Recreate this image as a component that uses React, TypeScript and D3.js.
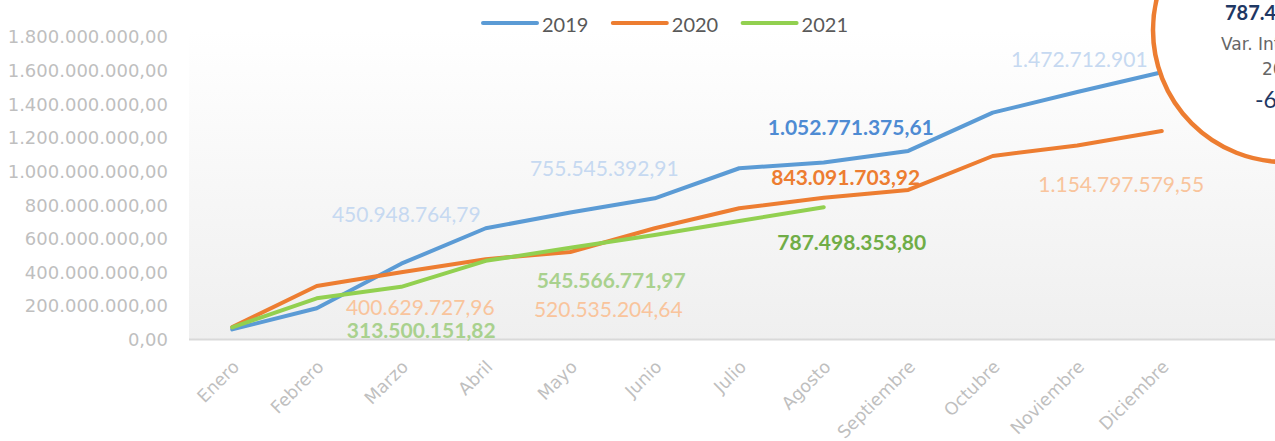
import React, { useEffect, useRef } from 'react';
import * as d3 from 'd3';

const months = ['Enero', 'Febrero', 'Marzo', 'Abril', 'Mayo', 'Junio', 'Julio', 'Agosto', 'Septiembre', 'Octubre', 'Noviembre', 'Diciembre'];

const values2019 = [60e6, 186e6, 450948764.79, 662e6, 755545392.91, 840e6, 1019e6, 1052771375.61, 1122e6, 1350e6, 1472712901, 1590e6];
const values2020 = [74e6, 318e6, 400629727.96, 478e6, 520535204.64, 662e6, 781e6, 843091703.92, 890e6, 1092e6, 1154797579.55, 1241e6];
const values2021 = [72e6, 245e6, 313500151.82, 468e6, 545566771.97, 622e6, 705e6, 787498353.80];

const seriesNames = ['2019', '2020', '2021'];

const yTicks = [0, 200e6, 400e6, 600e6, 800e6, 1000e6, 1200e6, 1400e6, 1600e6, 1800e6];

// data labels: series index, month index, text
const labelSeries = [0, 0, 0, 0, 1, 1, 1, 1, 2, 2, 2];
const labelMonths = [2, 4, 7, 10, 2, 4, 7, 10, 2, 4, 7];
const labelTexts = [
    '450.948.764,79', '755.545.392,91', '1.052.771.375,61', '1.472.712.901',
    '400.629.727,96', '520.535.204,64', '843.091.703,92', '1.154.797.579,55',
    '313.500.151,82', '545.566.771,97', '787.498.353,80'
];

const calloutLines = ['787.498.353,80', 'Var. Interanual', '2021/2020', '-6,59%'];

const colors = ['#5b9bd5', '#ed7d31', '#92d050'];

function App() {
    const ref = useRef<SVGSVGElement>(null);

    useEffect(() => {
        const width = 1275;
        const height = 441;
        const plot = { left: 190, right: 1204, top: 30, bottom: 339.5 };

        const svg = d3.select(ref.current);
        svg.selectAll('*').remove();
        svg.attr('width', width).attr('height', height);

        const xScale = d3.scaleBand<string>().domain(months).range([plot.left, plot.right]);
        const xc = (m: string) => (xScale(m) as number) + xScale.bandwidth() / 2;
        const yScale = d3.scaleLinear().domain([0, 1.8e9]).range([plot.bottom, 37]);

        // plot background gradient
        const defs = svg.append('defs');
        const grad = defs.append('linearGradient').attr('id', 'bg').attr('x1', 0).attr('y1', 0).attr('x2', 0).attr('y2', 1);
        grad.append('stop').attr('offset', '0%').attr('stop-color', '#ffffff');
        grad.append('stop').attr('offset', '100%').attr('stop-color', '#efefef');
        svg.append('rect')
            .attr('x', plot.left - 1).attr('y', plot.top)
            .attr('width', width - plot.left + 1).attr('height', plot.bottom - plot.top)
            .attr('fill', 'url(#bg)');

        // axis line
        svg.append('line')
            .attr('x1', plot.left - 1).attr('x2', width)
            .attr('y1', plot.bottom).attr('y2', plot.bottom)
            .attr('stroke', '#d9d9d9').attr('stroke-width', 2);

        // y tick labels
        const fmt = d3.formatLocale({ decimal: ',', thousands: '.', grouping: [3], currency: ['', ''] }).format(',.2f');
        svg.append('g').selectAll('text').data(yTicks).join('text')
            .attr('x', 168).attr('y', d => yScale(d))
            .attr('dy', '0.36em')
            .attr('text-anchor', 'end')
            .style('font-family', 'DejaVu Sans')
            .style('font-size', '18px')
            .style('fill', '#bfbfbf')
            .text(d => fmt(d));

        // x tick labels
        svg.append('g').selectAll('text').data(months).join('text')
            .attr('text-anchor', 'end')
            .attr('transform', d => `translate(${xc(d) + 8},${368}) rotate(-45)`)
            .style('font-family', 'DejaVu Sans')
            .style('font-size', '17.5px')
            .style('fill', '#bfbfbf')
            .text(d => d);

        // lines
        const line = d3.line<number>()
            .x((_, i) => xc(months[i]))
            .y(d => yScale(d));
        [values2019, values2020, values2021].forEach((vals, i) => {
            svg.append('path')
                .datum(vals)
                .attr('fill', 'none')
                .attr('stroke', colors[i])
                .attr('stroke-width', 4)
                .attr('stroke-linejoin', 'round')
                .attr('stroke-linecap', 'round')
                .attr('d', line);
        });

        // data labels
        const allVals = [values2019, values2020, values2021];
        const offX = [5, 34, 27, 2, 19, 38, 22, 44, 20, 41, 28];
        const offY = [-42, -36.5, -27.6, -25, 43, 65, -13, 46.6, 51, 40, 43];
        const fills = ['#c6d9f1', '#c6d9f1', '#4e8bd3', '#c6d9f1', '#f9c49c', '#f9c49c', '#ed7d31', '#f9c49c', '#a9d18e', '#a9d18e', '#70ad47'];
        const weights = [400, 400, 700, 400, 400, 400, 700, 400, 700, 700, 700];
        labelTexts.forEach((t, i) => {
            const s = labelSeries[i];
            const m = labelMonths[i];
            svg.append('text')
                .attr('x', xc(months[m]) + offX[i])
                .attr('y', yScale(allVals[s][m]) + offY[i])
                .attr('text-anchor', 'middle')
                .style('font-family', 'Lato')
                .style('font-size', '21px')
                .style('font-weight', weights[i])
                .style('fill', fills[i])
                .text(t);
        });

        // legend
        seriesNames.forEach((name, i) => {
            const lx = 483 + i * 129.8;
            svg.append('line')
                .attr('x1', lx).attr('x2', lx + 54)
                .attr('y1', 23).attr('y2', 23)
                .attr('stroke', colors[i]).attr('stroke-width', 4).attr('stroke-linecap', 'round');
            svg.append('text')
                .attr('x', lx + 59).attr('y', 31.5)
                .style('font-family', 'Lato')
                .style('font-size', '20px')
                .style('fill', '#595959')
                .text(name);
        });

        // callout circle (cut by the right edge, as in the original)
        svg.append('circle')
            .attr('cx', 1285).attr('cy', 30).attr('r', 132)
            .attr('fill', '#ffffff')
            .attr('stroke', '#ed7d31').attr('stroke-width', 4.5);
        svg.append('text').attr('x', 1225).attr('y', 20)
            .style('font-family', 'Lato').style('font-size', '20px').style('font-weight', 700)
            .style('fill', '#1f3864').text(calloutLines[0]);
        svg.append('text').attr('x', 1221).attr('y', 50)
            .style('font-family', 'DejaVu Sans').style('font-size', '17px')
            .style('fill', '#666666').text(calloutLines[1]);
        svg.append('text').attr('x', 1262).attr('y', 75)
            .style('font-family', 'DejaVu Sans').style('font-size', '17px')
            .style('fill', '#666666').text(calloutLines[2]);
        svg.append('text').attr('x', 1255).attr('y', 108)
            .style('font-family', 'Lato').style('font-size', '23px')
            .style('fill', '#1f3864').text(calloutLines[3]);
    }, []);

    return (
        <svg ref={ref} style={{ position: 'absolute', left: 0, top: 0, display: 'block', background: '#ffffff' }} />
    );
}

export default App;
